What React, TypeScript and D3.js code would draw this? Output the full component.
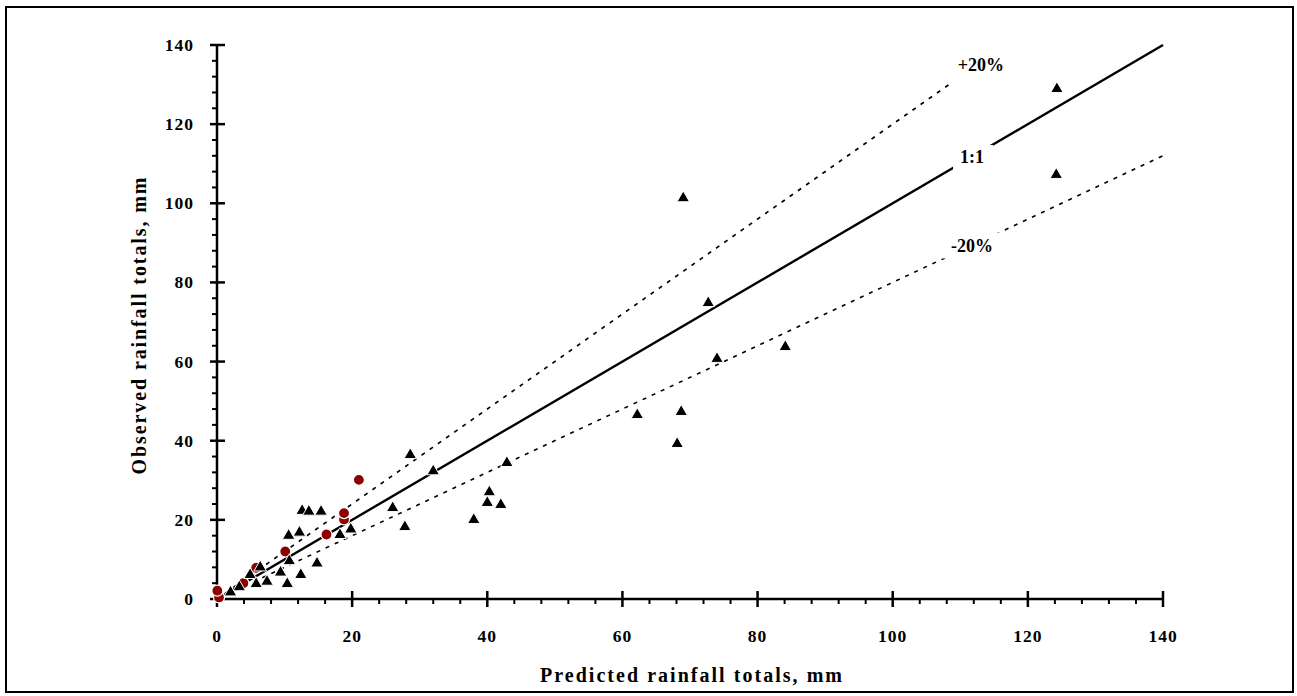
import React from "react";
import * as d3 from "d3";

const triPredicted = [124.3, 124.2, 69.0, 72.7, 74.0, 84.1, 62.2, 68.7, 68.1, 42.9, 40.3, 40.0, 42.0, 38.0, 32.0, 28.6, 26.0, 27.8, 12.6, 13.6, 15.4, 19.8, 18.2, 12.2, 10.6, 10.7, 14.8, 12.4, 6.4, 4.9, 9.4, 7.4, 5.8, 10.4, 3.3, 2.0];
const triObserved = [128.9, 107.2, 101.3, 74.8, 60.7, 63.7, 46.5, 47.3, 39.2, 34.4, 27.0, 24.3, 23.8, 20.0, 32.3, 36.4, 23.0, 18.2, 22.3, 22.1, 22.1, 17.6, 16.2, 16.8, 16.0, 9.6, 9.0, 6.1, 8.0, 6.1, 6.7, 4.4, 3.8, 3.8, 3.0, 1.7];

const circPredicted = [0.3, 3.9, 5.8, 18.8, 21.0, 18.8, 16.2, 10.1, 0.05];
const circObserved = [0.4, 4.0, 7.9, 20.1, 30.1, 21.7, 16.3, 12.0, 2.1];

const axisTicks = [0, 20, 40, 60, 80, 100, 120, 140];
const minorTicks = d3.range(0, 141, 4).filter((v) => v % 20 !== 0);

const plusLimit = 108.5;

export default function App() {
  const x = d3.scaleLinear().domain([0, 140]).range([217, 1163]);
  const y = d3.scaleLinear().domain([0, 140]).range([599, 45]);
  const tri = d3.symbol().type(d3.symbolTriangle).size(68)();
  const font = "'Liberation Serif', 'Times New Roman', serif";
  const red = "#8b0000";

  const lab11 = { px: x(111.7), py: y(111.7) };
  const labMinus = { px: 972, py: y(0.8 * 111.7) };

  return (
    <div style={{ position: "absolute", left: 0, top: 0 }}>
      <svg width={1297} height={696} style={{ display: "block" }} fontFamily={font}>
        <rect x={0} y={0} width={1297} height={696} fill="white" />
        <rect x={6} y={7} width={1287} height={685} fill="white" stroke="#000" strokeWidth={2} />

        {/* reference lines */}
        <line x1={x(0)} y1={y(0)} x2={x(140)} y2={y(140)} stroke="#000" strokeWidth={2.4} />
        <line x1={x(0)} y1={y(0)} x2={x(plusLimit)} y2={y(plusLimit * 1.2)} stroke="#000" strokeWidth={1.6} strokeDasharray="4 6" />
        <line x1={x(0)} y1={y(0)} x2={x(140)} y2={y(140 * 0.8)} stroke="#000" strokeWidth={1.6} strokeDasharray="4 6" />

        {/* label gaps */}
        <rect x={953} y={lab11.py - 12} width={40} height={24} fill="white" />
        <rect x={937} y={labMinus.py - 13} width={65} height={26} fill="white" />
        <text x={972} y={lab11.py + 6} textAnchor="middle" fontSize={18} fontWeight="bold">1:1</text>
        <text x={972} y={labMinus.py + 7} textAnchor="middle" fontSize={18} fontWeight="bold">-20%</text>
        <text x={981} y={71} textAnchor="middle" fontSize={18} fontWeight="bold">+20%</text>

        {/* axes */}
        <line x1={x(0)} y1={y(0)} x2={x(140)} y2={y(0)} stroke="#000" strokeWidth={2.5} />
        <line x1={x(0)} y1={y(0)} x2={x(0)} y2={y(140)} stroke="#000" strokeWidth={2.5} />
        {axisTicks.map((t) => (
          <g key={"xt" + t}>
            <line x1={x(t)} x2={x(t)} y1={y(0) - 8} y2={y(0) + 8} stroke="#000" strokeWidth={2.5} />
            <text x={x(t)} y={642} textAnchor="middle" fontSize={17.5} fontWeight="bold" letterSpacing={1}>{t}</text>
          </g>
        ))}
        {minorTicks.map((t) => (
          <line key={"xm" + t} x1={x(t)} x2={x(t)} y1={y(0)} y2={y(0) + 5} stroke="#000" strokeWidth={2} />
        ))}
        {axisTicks.map((t) => (
          <g key={"yt" + t}>
            <line x1={x(0) - 7} x2={x(0) + 8} y1={y(t)} y2={y(t)} stroke="#000" strokeWidth={2.5} />
            <text x={194} y={y(t) + 6} textAnchor="end" fontSize={17.5} fontWeight="bold" letterSpacing={1}>{t}</text>
          </g>
        ))}
        {minorTicks.map((t) => (
          <line key={"ym" + t} x1={x(0) - 5} x2={x(0)} y1={y(t)} y2={y(t)} stroke="#000" strokeWidth={2} />
        ))}

        {/* circles */}
        {circPredicted.map((p, i) => (
          <circle key={"c" + i} cx={x(p)} cy={y(circObserved[i])} r={5.5} fill={red} stroke="#fff" strokeWidth={1.2} />
        ))}
        {/* triangles */}
        {triPredicted.map((p, i) => (
          <path key={"t" + i} d={tri!} transform={`translate(${x(p)},${y(triObserved[i])})`} fill="#000" stroke="#fff" strokeWidth={1} />
        ))}

        <text x={691} y={682} textAnchor="middle" fontSize={20} fontWeight="bold" textLength={302} lengthAdjust="spacing">Predicted rainfall totals, mm</text>
        <text transform={`translate(146,${326}) rotate(-90)`} textAnchor="middle" fontSize={20} fontWeight="bold" textLength={297} lengthAdjust="spacing">Observed rainfall totals, mm</text>
      </svg>
    </div>
  );
}
